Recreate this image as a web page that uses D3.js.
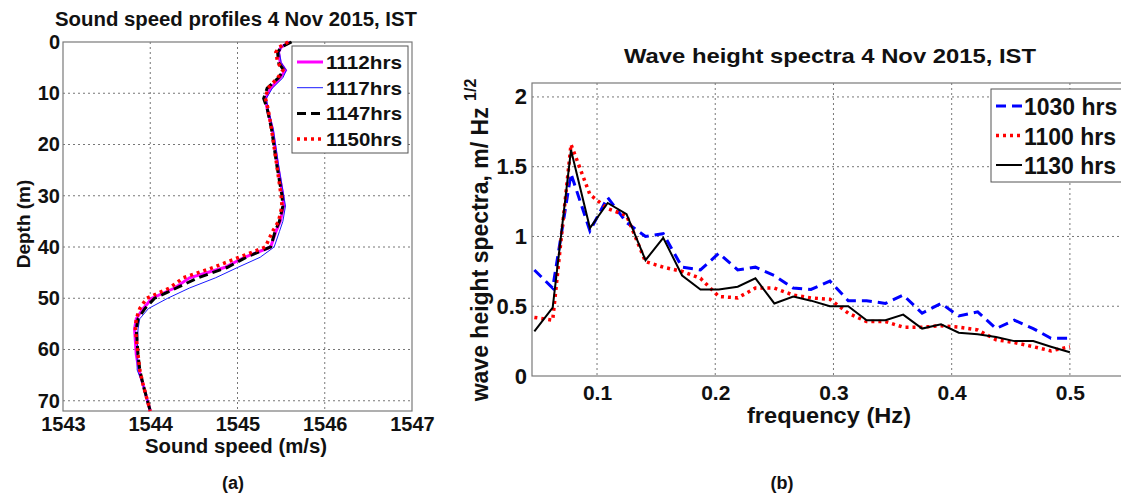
<!DOCTYPE html>
<html>
<head>
<meta charset="utf-8">
<script src="https://cdn.jsdelivr.net/npm/d3@7"></script>
<style>
  body { margin: 0; background: #fff; }
  text { font-family: "Liberation Sans", Arial, sans-serif; font-weight: bold; fill: #111; }
</style>
</head>
<body>
<div id="vis"><svg></svg></div>
<script>
// ---- data: (a) sound speed profiles ----
var depths = [0, 1, 2, 4, 5.5, 7, 9, 11, 13, 17, 24, 30, 32, 35, 37, 40, 42, 44, 46, 48, 50, 52, 54, 56, 61, 64, 67, 72];
var ss1112 = [1545.60, 1545.50, 1545.47, 1545.49, 1545.55, 1545.49, 1545.38, 1545.32, 1545.34, 1545.40, 1545.46, 1545.52, 1545.53, 1545.49, 1545.44, 1545.38, 1545.08, 1544.85, 1544.45, 1544.28, 1544.02, 1543.92, 1543.84, 1543.82, 1543.84, 1543.87, 1543.92, 1544.00];
var ss1117 = [1545.60, 1545.50, 1545.48, 1545.50, 1545.56, 1545.52, 1545.40, 1545.33, 1545.35, 1545.41, 1545.47, 1545.53, 1545.55, 1545.52, 1545.48, 1545.42, 1545.26, 1545.00, 1544.75, 1544.45, 1544.20, 1543.98, 1543.88, 1543.86, 1543.85, 1543.85, 1543.92, 1544.00];
var ss1147 = [1545.62, 1545.50, 1545.46, 1545.47, 1545.53, 1545.47, 1545.34, 1545.30, 1545.34, 1545.39, 1545.45, 1545.51, 1545.52, 1545.48, 1545.43, 1545.38, 1545.10, 1544.88, 1544.55, 1544.30, 1544.05, 1543.94, 1543.86, 1543.84, 1543.86, 1543.88, 1543.92, 1544.00];
var ss1150 = [1545.58, 1545.48, 1545.44, 1545.46, 1545.52, 1545.46, 1545.35, 1545.32, 1545.35, 1545.39, 1545.45, 1545.50, 1545.51, 1545.47, 1545.40, 1545.32, 1545.02, 1544.72, 1544.38, 1544.22, 1543.96, 1543.88, 1543.84, 1543.83, 1543.86, 1543.88, 1543.92, 1544.00];
var ssLabels = ["1112hrs", "1117hrs", "1147hrs", "1150hrs"];
var speedTicks = [1543, 1544, 1545, 1546, 1547];
var depthTicks = [0, 10, 20, 30, 40, 50, 60, 70];

// ---- data: (b) wave height spectra ----
var freq = [0.047, 0.0625, 0.078, 0.094, 0.109, 0.125, 0.141, 0.156, 0.172, 0.1875, 0.203, 0.219, 0.234, 0.25, 0.266, 0.281, 0.297, 0.3125, 0.328, 0.344, 0.359, 0.375, 0.391, 0.406, 0.422, 0.4375, 0.453, 0.469, 0.484, 0.5];
var wh1030 = [0.76, 0.63, 1.45, 1.04, 1.28, 1.10, 1.00, 1.02, 0.78, 0.76, 0.88, 0.76, 0.78, 0.72, 0.63, 0.62, 0.68, 0.54, 0.54, 0.52, 0.58, 0.45, 0.52, 0.43, 0.46, 0.34, 0.40, 0.34, 0.27, 0.27];
var wh1100 = [0.42, 0.40, 1.66, 1.30, 1.20, 1.15, 0.82, 0.78, 0.75, 0.70, 0.57, 0.56, 0.63, 0.63, 0.58, 0.56, 0.55, 0.45, 0.39, 0.39, 0.35, 0.35, 0.36, 0.35, 0.33, 0.26, 0.24, 0.21, 0.18, 0.21];
var wh1130 = [0.32, 0.49, 1.62, 1.06, 1.24, 1.16, 0.83, 0.99, 0.72, 0.62, 0.62, 0.64, 0.70, 0.52, 0.57, 0.54, 0.50, 0.50, 0.40, 0.40, 0.44, 0.34, 0.37, 0.31, 0.30, 0.28, 0.25, 0.25, 0.21, 0.17];
var whLabels = ["1030 hrs", "1100 hrs", "1130 hrs"];
var freqTicks = [0.1, 0.2, 0.3, 0.4, 0.5];
var whTicks = [0, 0.5, 1, 1.5, 2];

var svg = d3.select("#vis").select("svg")
    .attr("width", 1121)
    .attr("height", 496);

function gridAndBox(g, x, y, xt, yt, w, h) {
    // dotted grid
    g.selectAll(".gx").data(xt).enter().append("line")
        .attr("x1", d => x(d)).attr("x2", d => x(d))
        .attr("y1", 0).attr("y2", h)
        .attr("stroke", "#777").attr("stroke-width", 1).attr("stroke-dasharray", "2,3");
    g.selectAll(".gy").data(yt).enter().append("line")
        .attr("x1", 0).attr("x2", w)
        .attr("y1", d => y(d)).attr("y2", d => y(d))
        .attr("stroke", "#777").attr("stroke-width", 1).attr("stroke-dasharray", "2,3");
    g.append("rect").attr("width", w).attr("height", h)
        .attr("fill", "none").attr("stroke", "#7a7a7a").attr("stroke-width", 1.2);
}

// ================= (a) =================
var ax = d3.scaleLinear().domain([1543, 1547]).range([0, 349]);
var ay = d3.scaleLinear().domain([0, 72]).range([0, 369]);
var ga = svg.append("g").attr("transform", "translate(63,42)");
gridAndBox(ga, ax, ay, speedTicks.slice(1, -1), depthTicks.slice(1), 349, 369);

ga.append("g").attr("transform", "translate(0,369)")
    .call(d3.axisBottom(ax).tickValues(speedTicks).tickFormat(d3.format("d")).tickSize(0).tickPadding(6))
    .call(g => g.select(".domain").remove())
    .selectAll("text").style("font-size", "20px").attr("fill", "#111");
ga.append("g")
    .call(d3.axisLeft(ay).tickValues(depthTicks).tickSize(0).tickPadding(3))
    .call(g => g.select(".domain").remove())
    .selectAll("text").style("font-size", "20px").attr("fill", "#111");

var ssSeries = [
    {vals: ss1112, color: "#ff00ff", w: 3, dash: null},
    {vals: ss1117, color: "#1a1aff", w: 1, dash: null},
    {vals: ss1147, color: "#000", w: 3, dash: "9,5"},
    {vals: ss1150, color: "#ff0000", w: 3.5, dash: "3,4"}
];
var ssLine = d3.line().x(d => ax(d[0])).y(d => ay(d[1]));
ssSeries.forEach(function(s) {
    ga.append("path")
        .datum(s.vals.map((v, i) => [v, depths[i]]))
        .attr("fill", "none").attr("stroke", s.color)
        .attr("stroke-width", s.w).attr("stroke-dasharray", s.dash)
        .attr("d", ssLine);
});

// legend (a)
var la = ga.append("g").attr("transform", "translate(229,4)");
la.append("rect").attr("width", 116).attr("height", 107)
    .attr("fill", "#fff").attr("stroke", "#555").attr("stroke-width", 1);
ssSeries.forEach(function(s, i) {
    var yy = 16 + i * 25.7;
    la.append("line").attr("x1", 5).attr("x2", 31).attr("y1", yy).attr("y2", yy)
        .attr("stroke", s.color).attr("stroke-width", s.w).attr("stroke-dasharray", s.dash);
    la.append("text").attr("x", 34).attr("y", yy + 7).style("font-size", "19px")
        .attr("textLength", 76).attr("lengthAdjust", "spacingAndGlyphs").text(ssLabels[i]);
});

svg.append("text").attr("x", 236).attr("y", 26).attr("text-anchor", "middle")
    .style("font-size", "20px").attr("textLength", 362).attr("lengthAdjust", "spacingAndGlyphs")
    .text("Sound speed profiles 4 Nov 2015, IST");
svg.append("text").attr("x", 236).attr("y", 453).attr("text-anchor", "middle")
    .style("font-size", "20px").attr("textLength", 182).attr("lengthAdjust", "spacingAndGlyphs")
    .text("Sound speed (m/s)");
svg.append("text").attr("transform", "translate(30,224) rotate(-90)").attr("text-anchor", "middle")
    .style("font-size", "19px").text("Depth  (m)");
svg.append("text").attr("x", 233).attr("y", 489).attr("text-anchor", "middle")
    .style("font-size", "18px").text("(a)");

// ================= (b) =================
var bx = d3.scaleLinear().domain([0.045, 0.55]).range([0, 597]);
var by = d3.scaleLinear().domain([0, 2.1]).range([293, 0]);
var gb = svg.append("g").attr("transform", "translate(532,83)");
gridAndBox(gb, bx, by, freqTicks, whTicks.slice(1), 597, 293);

gb.append("g").attr("transform", "translate(0,293)")
    .call(d3.axisBottom(bx).tickValues(freqTicks).tickFormat(d3.format(".1f")).tickSize(0).tickPadding(9))
    .call(g => g.select(".domain").remove())
    .selectAll("text").style("font-size", "21px").attr("fill", "#111");
gb.append("g")
    .call(d3.axisLeft(by).tickValues(whTicks).tickFormat(d3.format("")).tickSize(0).tickPadding(5))
    .call(g => g.select(".domain").remove())
    .selectAll("text").style("font-size", "22px").attr("fill", "#111");

var whSeries = [
    {vals: wh1030, color: "#0000ff", w: 3, dash: "10,6"},
    {vals: wh1100, color: "#ff0000", w: 3.5, dash: "3,4"},
    {vals: wh1130, color: "#000", w: 2, dash: null}
];
var whLine = d3.line().x(d => bx(d[0])).y(d => by(d[1]));
whSeries.forEach(function(s) {
    gb.append("path")
        .datum(s.vals.map((v, i) => [freq[i], v]))
        .attr("fill", "none").attr("stroke", s.color)
        .attr("stroke-width", s.w).attr("stroke-dasharray", s.dash)
        .attr("d", whLine);
});

// legend (b)
var lb = gb.append("g").attr("transform", "translate(459,6)");
lb.append("rect").attr("width", 140).attr("height", 93)
    .attr("fill", "#fff").attr("stroke", "#555").attr("stroke-width", 1);
whSeries.forEach(function(s, i) {
    var yy = 17 + i * 29.5;
    lb.append("line").attr("x1", 5).attr("x2", 31).attr("y1", yy).attr("y2", yy)
        .attr("stroke", s.color).attr("stroke-width", s.w).attr("stroke-dasharray", s.dash);
    lb.append("text").attr("x", 33).attr("y", yy + 9).style("font-size", "23px").text(whLabels[i]);
});

svg.append("text").attr("x", 830).attr("y", 63).attr("text-anchor", "middle")
    .style("font-size", "21px").attr("textLength", 412).attr("lengthAdjust", "spacingAndGlyphs")
    .text("Wave height spectra 4 Nov 2015, IST");
svg.append("text").attr("x", 829).attr("y", 423).attr("text-anchor", "middle")
    .style("font-size", "22px").attr("textLength", 164).attr("lengthAdjust", "spacingAndGlyphs")
    .text("frequency (Hz)");
var yl = svg.append("text").attr("transform", "translate(488,240) rotate(-90)").attr("text-anchor", "middle")
    .style("font-size", "23px");
yl.append("tspan").text("wave height spectra, m/ Hz ");
yl.append("tspan").attr("dy", -12).style("font-size", "16px").text("1/2");
svg.append("text").attr("x", 782).attr("y", 489).attr("text-anchor", "middle")
    .style("font-size", "18px").text("(b)");
</script>
</body>
</html>
